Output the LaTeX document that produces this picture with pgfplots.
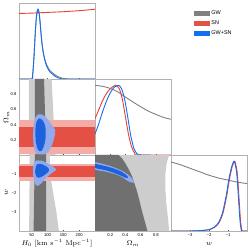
\documentclass[border=0pt]{standalone}
\usepackage{pgfplots}
\pgfplotsset{compat=1.18}
\usepackage{fontspec}
\setsansfont{Liberation Sans}
\definecolor{gwd}{RGB}{112,112,112}
\definecolor{gwl}{RGB}{205,205,205}
\definecolor{snd}{RGB}{228,80,68}
\definecolor{snl}{RGB}{243,172,166}
\definecolor{bld}{RGB}{28,98,222}
\definecolor{bll}{RGB}{146,170,236}
\definecolor{blline}{RGB}{20,110,240}
\definecolor{snline}{RGB}{232,64,52}
\definecolor{gwline}{RGB}{128,128,128}
\pgfplotsset{
  panel/.style={scale only axis, width=76bp, height=76bp, anchor=south west,
    axis line style={gray!60, line width=0.6pt},
    tick style={black!70, line width=0.3pt}, major tick length=1.5pt, tick align=inside,
    xtick pos=left, ytick pos=left,
    /pgf/number format/assume math mode=true,
    tick label style={font=\sffamily\fontsize{4.2}{5}\selectfont},
    label style={font=\scriptsize},
    xticklabel style={yshift=1pt}, yticklabel style={xshift=1pt},
    xlabel style={at={(axis description cs:0.5,-0.165)}, anchor=center},
    ylabel style={at={(axis description cs:-0.165,0.5)}, anchor=center},
  },
  hzero/.style={xmin=10,xmax=250,xtick={50,100,150,200}},
  omx/.style={xmin=0,xmax=1,xtick={0.2,0.4,0.6,0.8}},
  omy/.style={ymin=0,ymax=1,ytick={0.2,0.4,0.6,0.8}},
  wx/.style={xmin=-4,xmax=0,xtick={-3,-2,-1},xticklabels={−3,−2,−1}},
  wy/.style={ymin=-4,ymax=0,ytick={-3,-2,-1},yticklabels={−3,−2,−1}},
  oned/.style={ymin=0,ymax=1.09,ytick=\empty},
  line/.style={line width=0.9pt, smooth, tension=0.4, mark=none},
}
\begin{document}
\begin{tikzpicture}
\useasboundingbox (0bp,0bp) rectangle (249bp,250bp);
% ---------- row 1: H0 1D ----------
\begin{axis}[panel, at={(19bp,171bp)}, hzero, oned, xticklabels={}]
\addplot[line, gwline] coordinates {(10,0)(50,0)(53,0.05)(55,0.16)(57.5,0.33)(60,0.55)(62.5,0.74)(65,0.89)(67.5,0.97)(70,1.0)(72.5,0.97)(75,0.89)(78,0.74)(81,0.58)(84,0.46)(87,0.37)(91,0.29)(96,0.22)(101,0.17)(108,0.12)(117,0.085)(125,0.055)(133,0.035)(142,0.018)(150,0.008)(160,0.002)(170,0)(250,0)};
\addplot[line, snline] coordinates {(10,0.94)(50,0.945)(100,0.955)(150,0.965)(200,0.98)(250,1.0)};
\addplot[line, blline] coordinates {(10,0)(50,0)(53,0.05)(55,0.16)(57.5,0.33)(60,0.55)(62.5,0.74)(65,0.89)(67.5,0.97)(70,1.0)(72.5,0.97)(75,0.89)(78,0.74)(81,0.58)(84,0.46)(87,0.37)(91,0.28)(96,0.2)(101,0.15)(108,0.1)(117,0.065)(125,0.035)(133,0.018)(142,0.006)(150,0)(250,0)};
\end{axis}
% ---------- row 2: Omega_m vs H0 ----------
\begin{axis}[panel, at={(19bp,95bp)}, hzero, omy, xticklabels={}, ylabel={$\Omega_m$}]
\addplot[fill=gwl,draw=none] coordinates {(41,0)(125,0)(113,1)(41,1)} -- cycle;
\addplot[fill=gwd,draw=none] coordinates {(60,0)(96,0)(89,1)(60,1)} -- cycle;
\addplot[fill=snl,draw=none] coordinates {(10,0.01)(250,0.01)(250,0.46)(10,0.46)} -- cycle;
\addplot[fill=snd,draw=none] coordinates {(10,0.11)(250,0.11)(250,0.37)(10,0.37)} -- cycle;
\addplot[fill=bll,draw=none,smooth cycle,tension=0.5] coordinates {(72.4,0.535)(86,0.526)(98.4,0.482)(112,0.404)(124.4,0.329)(122.3,0.241)(114,0.132)(101.5,0.035)(86,0.009)(65.1,0.018)(56.8,0.110)(54.7,0.263)(56.8,0.417)(63,0.504)};
\addplot[fill=bld,draw=none,smooth cycle,tension=0.5] coordinates {(75.5,0.482)(86,0.447)(93.2,0.373)(94.2,0.241)(89,0.123)(80.7,0.053)(70.3,0.066)(63,0.175)(62,0.351)(66.2,0.447)};
\end{axis}
% ---------- row 2: Omega_m 1D ----------
\begin{axis}[panel, at={(95bp,95bp)}, omx, oned, xticklabels={}]
\addplot[line, gwline] coordinates {(0,1.0)(0.1,0.985)(0.2,0.955)(0.3,0.905)(0.38,0.846)(0.5,0.76)(0.6,0.693)(0.7,0.63)(0.82,0.574)(0.9,0.54)(1.0,0.512)};
\addplot[line, snline] coordinates {(0,0.52)(0.05,0.65)(0.1,0.78)(0.15,0.88)(0.2,0.95)(0.27,1.0)(0.32,0.95)(0.36,0.8)(0.40,0.55)(0.44,0.3)(0.48,0.12)(0.52,0.03)(0.56,0)(1,0)};
\addplot[line, blline] coordinates {(0,0.3)(0.05,0.45)(0.1,0.62)(0.15,0.77)(0.2,0.89)(0.25,0.97)(0.31,1.0)(0.35,0.95)(0.39,0.8)(0.43,0.55)(0.47,0.28)(0.51,0.1)(0.55,0.02)(0.6,0)(0.73,0)};
\end{axis}
% ---------- row 3: w vs H0 ----------
\begin{axis}[panel, at={(19bp,19bp)}, hzero, wy, xlabel={$H_0$ [km s$^{-1}$ Mpc$^{-1}$]}, ylabel={$w$}]
\addplot[fill=gwl,draw=none] coordinates {(44,0)(107,0)(108,-1)(118,-2)(128,-3)(136,-4)(42,-4)} -- cycle;
\addplot[fill=gwd,draw=none] coordinates {(60,0)(96,0)(96,-4)(56,-4)} -- cycle;
\addplot[fill=snl,draw=none] coordinates {(10,-0.45)(250,-0.45)(250,-1.35)(10,-1.35)} -- cycle;
\addplot[fill=snd,draw=none] coordinates {(10,-0.6)(250,-0.6)(250,-1.15)(10,-1.15)} -- cycle;
\addplot[fill=bll,draw=none,smooth cycle,tension=0.5] coordinates {(59.9,-0.32)(80.7,-0.30)(106.7,-0.50)(127.5,-0.76)(117,-0.91)(96.3,-1.19)(80.7,-1.49)(68.2,-1.63)(59.9,-1.49)(54.7,-1.05)(54.7,-0.61)};
\addplot[fill=bld,draw=none,smooth cycle,tension=0.5] coordinates {(67.2,-0.49)(83.8,-0.49)(101.5,-0.67)(104.6,-0.84)(91.1,-1.05)(75.5,-1.19)(65.1,-1.14)(60.9,-0.84)};
\end{axis}
% ---------- row 3: w vs Omega_m ----------
\begin{axis}[panel, at={(95bp,19bp)}, omx, wy, yticklabels={}, xlabel={$\Omega_m$}]
\addplot[fill=gwl,draw=none] coordinates {(0,0)(0.975,0)(0.945,-0.4)(0.925,-1.0)(0.925,-1.8)(0.94,-2.6)(0.96,-3.3)(0.975,-4)(0,-4)} -- cycle;
\addplot[fill=gwd,draw=none] coordinates {(0,0)(0.31,0)(0.36,-0.2)(0.40,-0.44)(0.45,-0.8)(0.49,-1.14)(0.56,-2.0)(0.62,-2.98)(0.69,-4)(0,-4)} -- cycle;
\addplot[fill=bll,draw=none,smooth cycle,tension=0.5] coordinates {(-0.02,-0.38)(0.2,-0.58)(0.378,-0.88)(0.489,-1.23)(0.511,-1.46)(0.444,-1.40)(0.333,-1.11)(0.156,-0.89)(-0.02,-0.74)};
\addplot[fill=bld,draw=none,smooth cycle,tension=0.5] coordinates {(-0.02,-0.46)(0.2,-0.65)(0.356,-0.89)(0.431,-1.14)(0.413,-1.21)(0.311,-1.04)(0.156,-0.82)(-0.02,-0.66)};
\end{axis}
% ---------- row 3: w 1D ----------
\begin{axis}[panel, at={(171bp,19bp)}, wx, oned, xlabel={$w$}]
\addplot[line, gwline] coordinates {(-4,0.99)(-3.5,0.95)(-3,0.9)(-2.5,0.85)(-2,0.8)(-1.5,0.76)(-1,0.73)(-0.5,0.70)(0,0.68)};
\addplot[line, snline] coordinates {(-4,0)(-3,0)(-2.47,0.005)(-1.97,0.02)(-1.67,0.06)(-1.47,0.12)(-1.27,0.25)(-1.07,0.5)(-0.92,0.75)(-0.77,0.93)(-0.64,1.0)(-0.52,0.85)(-0.45,0.6)(-0.39,0.35)(-0.34,0.15)(-0.29,0.04)(-0.25,0)(0,0)};
\addplot[line, blline] coordinates {(-4,0)(-3,0)(-2.5,0.005)(-2,0.02)(-1.7,0.06)(-1.5,0.12)(-1.3,0.25)(-1.1,0.5)(-0.95,0.75)(-0.8,0.93)(-0.67,1.0)(-0.55,0.85)(-0.48,0.6)(-0.42,0.35)(-0.37,0.15)(-0.32,0.04)(-0.28,0)(0,0)};
\end{axis}
% ---------- legend ----------
\begin{axis}[at={(171bp,171bp)}, anchor=south west, scale only axis, width=76bp, height=76bp, hide axis,
  xmin=0,xmax=1,ymin=0,ymax=1,
  legend style={at={(0.3,0.93)}, anchor=north west, draw=none, fill=none, font=\sffamily\fontsize{5.5}{6.5}\selectfont,
    inner sep=0pt, row sep=0.6pt, legend cell align=left},
  legend image code/.code={\fill[#1] (0bp,-1.8bp) rectangle (15bp,1.8bp);}]
\addlegendimage{gwline}\addlegendentry{GW}
\addlegendimage{snd}\addlegendentry{SN}
\addlegendimage{blline}\addlegendentry{GW+SN}
\end{axis}
\end{tikzpicture}
\end{document}
